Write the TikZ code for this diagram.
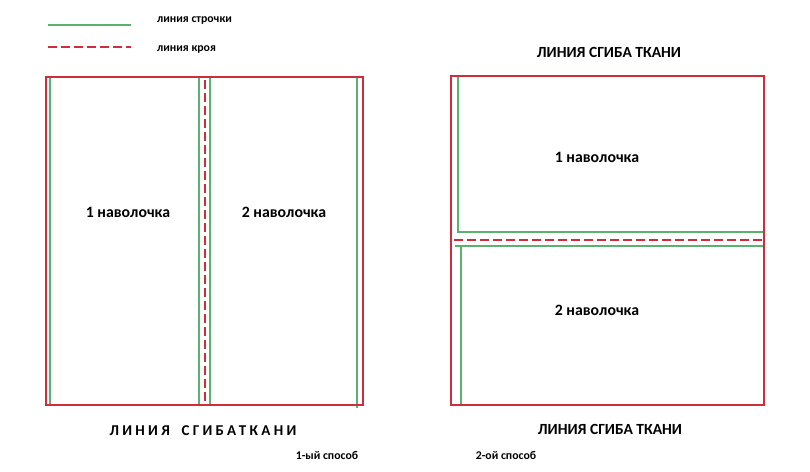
\documentclass[tikz,border=0pt]{standalone}
\usepackage{fontspec}
\setmainfont{Carlito}
\newfontfamily\spacedfont[LetterSpace=22]{Carlito}
\definecolor{cutred}{RGB}{205,45,60}
\definecolor{seamgreen}{RGB}{90,178,110}
\begin{document}
\begin{tikzpicture}[x=1pt,y=-1pt,
  redline/.style={draw=cutred,line width=2pt},
  greenline/.style={draw=seamgreen,line width=1.2pt},
  cutline/.style={draw=cutred,line width=2.5pt,dash pattern=on 9pt off 4pt},
  lbl/.style={font=\bfseries\fontsize{15.8}{18}\selectfont,inner sep=0pt},
  ttl/.style={font=\bfseries\fontsize{15.5}{18}\selectfont,inner sep=0pt},
  small/.style={font=\bfseries\fontsize{11.8}{14}\selectfont,inner sep=0pt}]
\useasboundingbox (0,0) rectangle (810,471);
% legend
\draw[greenline] (48,25) -- (131,25);
\draw[cutline] (48,47) -- (131,47);
\node[small,anchor=west] (lg1) at (157,21) {линия строчки};
\node[small,anchor=west] (lg2) at (157,50) {линия кроя};
% left layout
\draw[greenline] (50,77) -- (50,406);
\draw[greenline] (199,77) -- (199,406);
\draw[greenline] (210,77) -- (210,406);
\draw[greenline] (357,77) -- (357,408);
\draw[cutline] (205,80) -- (205,405);
\draw[redline] (46,77) rectangle (363,405);
\node[lbl] (l1) at (128,212) {1 наволочка};
\node[lbl] (l2) at (284,212) {2 наволочка};
\node[inner sep=0pt,font=\spacedfont\bfseries\fontsize{15}{18}\selectfont] (lt) at (203,431) {ЛИНИЯ\hspace{5pt} СГИБА\hspace{-4pt} ТКАНИ};
\node[small] (m1) at (327,455) {1-ый способ};
% right layout
\draw[greenline] (458,77) -- (458,232) -- (764,232);
\draw[greenline] (455,246) -- (764,246);
\draw[greenline] (461,246) -- (461,405);
\draw[cutline] (454,240) -- (764,240);
\draw[redline] (451,76) rectangle (764,405);
\node[lbl] (r1) at (597,157) {1 наволочка};
\node[lbl] (r2) at (597,310) {2 наволочка};
\node[ttl] (rt) at (609,52) {ЛИНИЯ СГИБА ТКАНИ};
\node[ttl] (rb) at (610,429) {ЛИНИЯ СГИБА ТКАНИ};
\node[small] (m2) at (506,455) {2-ой способ};
\end{tikzpicture}
\end{document}
